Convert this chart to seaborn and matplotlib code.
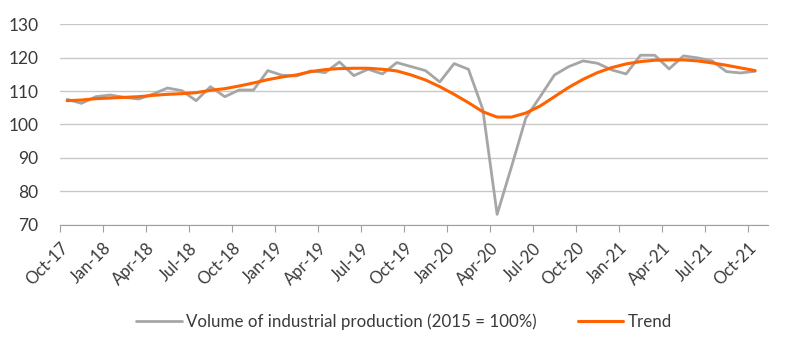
import numpy as np
import pandas as pd
import seaborn as sns
import matplotlib.pyplot as plt
import matplotlib.transforms as mtransforms

# monthly data Oct-17 .. Oct-21
months = pd.date_range("2017-10-01", "2021-10-01", freq="MS")

production = [107.5, 106.3, 108.3, 108.8, 108.1, 107.6, 109.1, 110.9, 110.1, 107.1,
              111.3, 108.3, 110.3, 110.3, 116.1, 114.7, 114.5, 116.0, 115.5, 118.7,
              114.6, 116.5, 115.1, 118.5, 117.3, 116.1, 112.7, 118.2, 116.5, 104.5,
              73.1, 87.3, 101.9, 108.3, 114.8, 117.3, 119.0, 118.3, 116.3, 115.1,
              120.7, 120.7, 116.6, 120.5, 119.9, 119.0, 115.8, 115.4, 115.9]

trend = [107.1, 107.3, 107.7, 107.9, 108.1, 108.3, 108.7, 109.0, 109.2, 109.5,
         110.2, 110.7, 111.5, 112.4, 113.4, 114.2, 114.8, 115.8, 116.4, 116.7,
         116.8, 116.8, 116.5, 116.0, 114.8, 113.3, 111.3, 109.0, 106.5, 103.8,
         102.2, 102.2, 103.4, 105.5, 108.3, 111.1, 113.5, 115.5, 117.0, 118.1,
         118.8, 119.2, 119.3, 119.3, 119.0, 118.4, 117.7, 116.9, 116.1]

tick_labels = [m.strftime("%b-%y") for m in months[::3]]

df = pd.DataFrame({"pos": np.arange(len(months)),
                   "production": production,
                   "trend": trend})

sns.set_style("white")
plt.rcParams['font.family'] = ['Lato', 'DejaVu Sans']
text_color = "#3a3a3a"

fig, ax = plt.subplots(figsize=(8, 3.5), dpi=100)
fig.subplots_adjust(left=0.075, right=0.96, top=0.931, bottom=0.358)

sns.lineplot(data=df, x="pos", y="production", ax=ax, color="#A6A6A6", linewidth=2,
             label="Volume of industrial production (2015 = 100%)")
sns.lineplot(data=df, x="pos", y="trend", ax=ax, color="#FF6200", linewidth=2.2,
             label="Trend")

ax.set_ylim(70, 130)
ax.set_yticks(range(70, 131, 10))
ax.set_xlim(-0.5, len(months) - 0.5 + 0.4)
ax.set_xticks(np.arange(0, len(months), 3) - 0.5)
ax.set_xticklabels(tick_labels, rotation=45, ha="right", rotation_mode="anchor")
ax.set_xlabel("")
ax.set_ylabel("")

# nudge the rotated labels a little to the right, like the original
shift = mtransforms.ScaledTranslation(5 / 72, 0, fig.dpi_scale_trans)
for lbl in ax.get_xticklabels():
    lbl.set_transform(lbl.get_transform() + shift)

ax.grid(axis="y", color="#C8C8C8", linewidth=1)
ax.set_axisbelow(True)
for s in ["top", "right", "left"]:
    ax.spines[s].set_visible(False)
ax.spines["bottom"].set_color("#A0A0A0")
ax.tick_params(axis="x", bottom=True, length=5, color="#A0A0A0", labelsize=12,
               labelcolor=text_color, pad=6)
ax.tick_params(axis="y", left=False, labelsize=12.5, labelcolor=text_color, pad=12)

ax.legend(loc="center", bbox_to_anchor=(0.505, 0.08), bbox_transform=fig.transFigure,
          ncol=2, frameon=False, fontsize=12.2, labelcolor=text_color,
          handlelength=2.7, handletextpad=0.25, columnspacing=2.4)

plt.savefig("out.png", dpi=100)
